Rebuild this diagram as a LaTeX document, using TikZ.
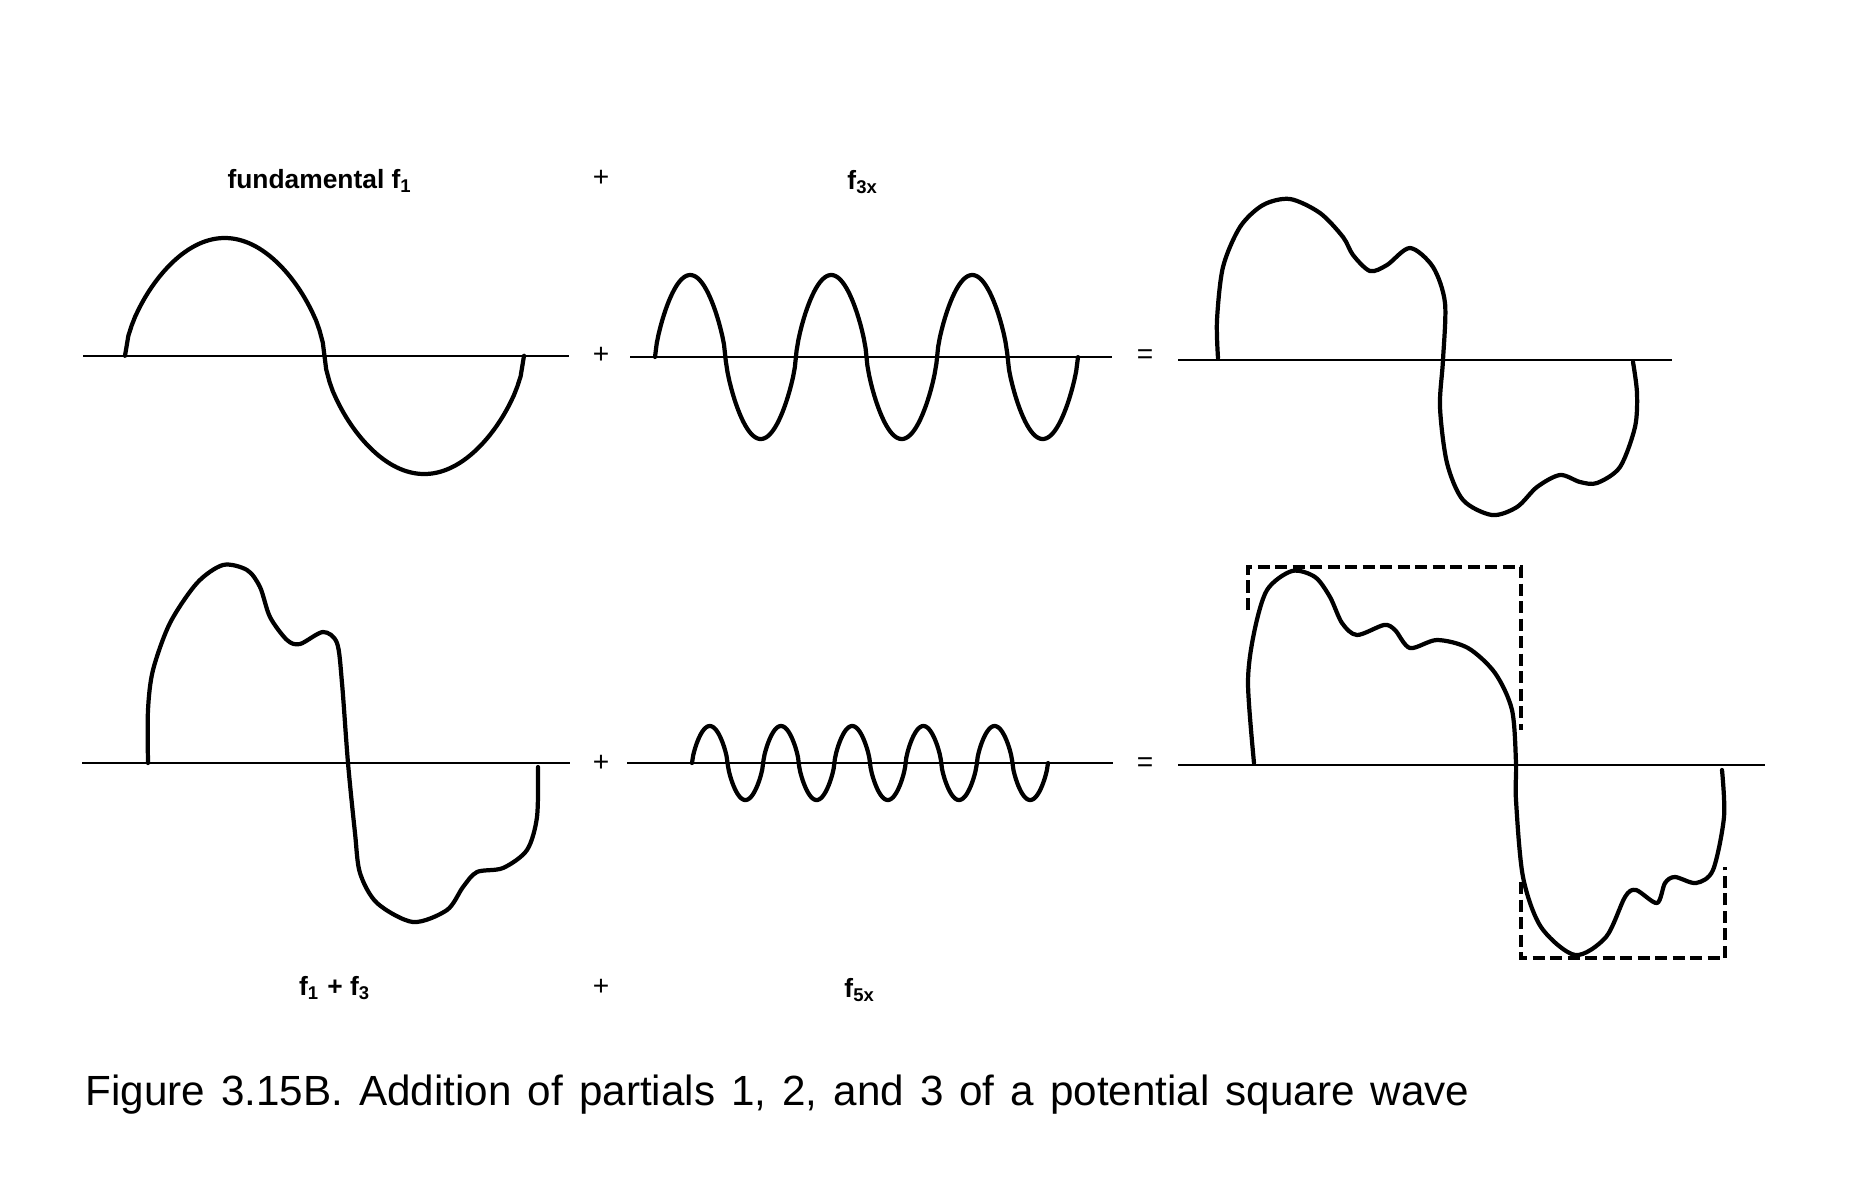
\documentclass[tikz,border=0pt]{standalone}
\usepackage{fontspec}
\setmainfont{Liberation Sans}
\begin{document}
\begin{tikzpicture}[x=0.01cm,y=-0.01cm,
    declare function={hump(\t,\p)=(sin(\t)<0?-1:1)*pow(abs(sin(\t))+0.00001,\p);},
    wave/.style={line width=1.2pt,line join=round,line cap=round},
    axisline/.style={line width=0.8pt},
    frame/.style={line width=0.9pt,dash pattern=on 1.2mm off 0.55mm},
    lbl/.style={font=\fontsize{7.5}{9}\selectfont\bfseries,inner sep=0pt},
    sign/.style={font=\fontsize{8}{9}\selectfont,inner sep=0pt}]
    \fill[white] (0,0) rectangle (1866,1196);
    \useasboundingbox (0,0) rectangle (1866,1196);
    %% top row
    \node[lbl] (fundlbl) at (320,181) {fundamental f\textsubscript{1}};
    \node[sign] (plustop) at (601,178) {+};
    \node[lbl] (fthreelbl) at (863,182) {f\textsubscript{3x}};
    \draw[axisline] (83,356) -- (569,356);
    \draw[wave] plot[domain=0:360,samples=120] ({125+\x/360*399},{356-118*hump(\x,0.6)});
    \node[sign] (plusA) at (601,355) {+};
    \draw[axisline] (630,357) -- (1112,357);
    \draw[wave] plot[domain=0:360,samples=240] ({655+\x/360*423},{357-82*hump(3*\x,0.7)});
    \node[sign] (eqA) at (1145,357) {=};
    \draw[axisline] (1178,360) -- (1672,360);
    \draw[wave] plot[smooth] coordinates {(1218,358) (1217,320) (1223,267) (1240,227)
        (1263,205) (1290,199) (1320,213) (1343,237) (1353,255) (1370,271) (1387,265)
        (1410,248) (1433,267) (1445,303) (1443,360) (1440,407) (1447,463) (1463,500)
        (1492,515) (1517,507) (1537,487) (1560,475) (1580,482) (1597,483) (1620,467)
        (1635,427) (1637,393) (1633,362)};
    %% bottom row
    \draw[axisline] (82,763) -- (570,763);
    \draw[wave] plot[smooth] coordinates {(148,763) (148,710) (153,670) (170,623)
        (197,583) (223,565) (247,570) (260,587) (270,617) (287,640) (300,644)
        (323,632) (337,643) (342,683) (348,763) (355,833) (360,873) (377,903)
        (413,922) (447,910) (463,887) (477,872) (503,868) (527,850) (537,817) (538,767)};
    \node[sign] (plusB) at (601,763) {+};
    \draw[axisline] (627,763) -- (1113,763);
    \draw[wave] plot[domain=0:360,samples=300] ({692+\x/360*356},{763-37*hump(5*\x,0.7)});
    \node[sign] (eqB) at (1145,765) {=};
    \draw[axisline] (1178,765) -- (1765,765);
    \draw[frame] (1248,610) -- (1248,567) -- (1521,567) -- (1521,730);
    \draw[frame] (1521,882) -- (1521,958) -- (1725,958) -- (1725,867);
    \draw[wave] plot[smooth] coordinates {(1254,763) (1248,683) (1254,633) (1267,590)
        (1292,571) (1315,577) (1330,597) (1342,623) (1357,635) (1384,625) (1395,630)
        (1410,648) (1437,640) (1468,648) (1495,673) (1512,710) (1516,763) (1516,800)
        (1523,877) (1541,927) (1575,955) (1606,937) (1625,897) (1636,890) (1657,903)
        (1665,883) (1675,877) (1696,883) (1713,870) (1724,817) (1722,770)};
    \node[lbl] (sumlbl) at (335,988) {f\textsubscript{1} + f\textsubscript{3}};
    \node[sign] (plusbot) at (601,987) {+};
    \node[lbl] (ffivelbl) at (860,990) {f\textsubscript{5x}};
    %% caption
    \node[anchor=base west,inner sep=0pt,font=\fontsize{12}{14}\selectfont] (caption)
        at (85,1105) {\spaceskip=0.38em Figure 3.15B. Addition of partials 1, 2, and 3 of a potential square wave};
\end{tikzpicture}
\end{document}
